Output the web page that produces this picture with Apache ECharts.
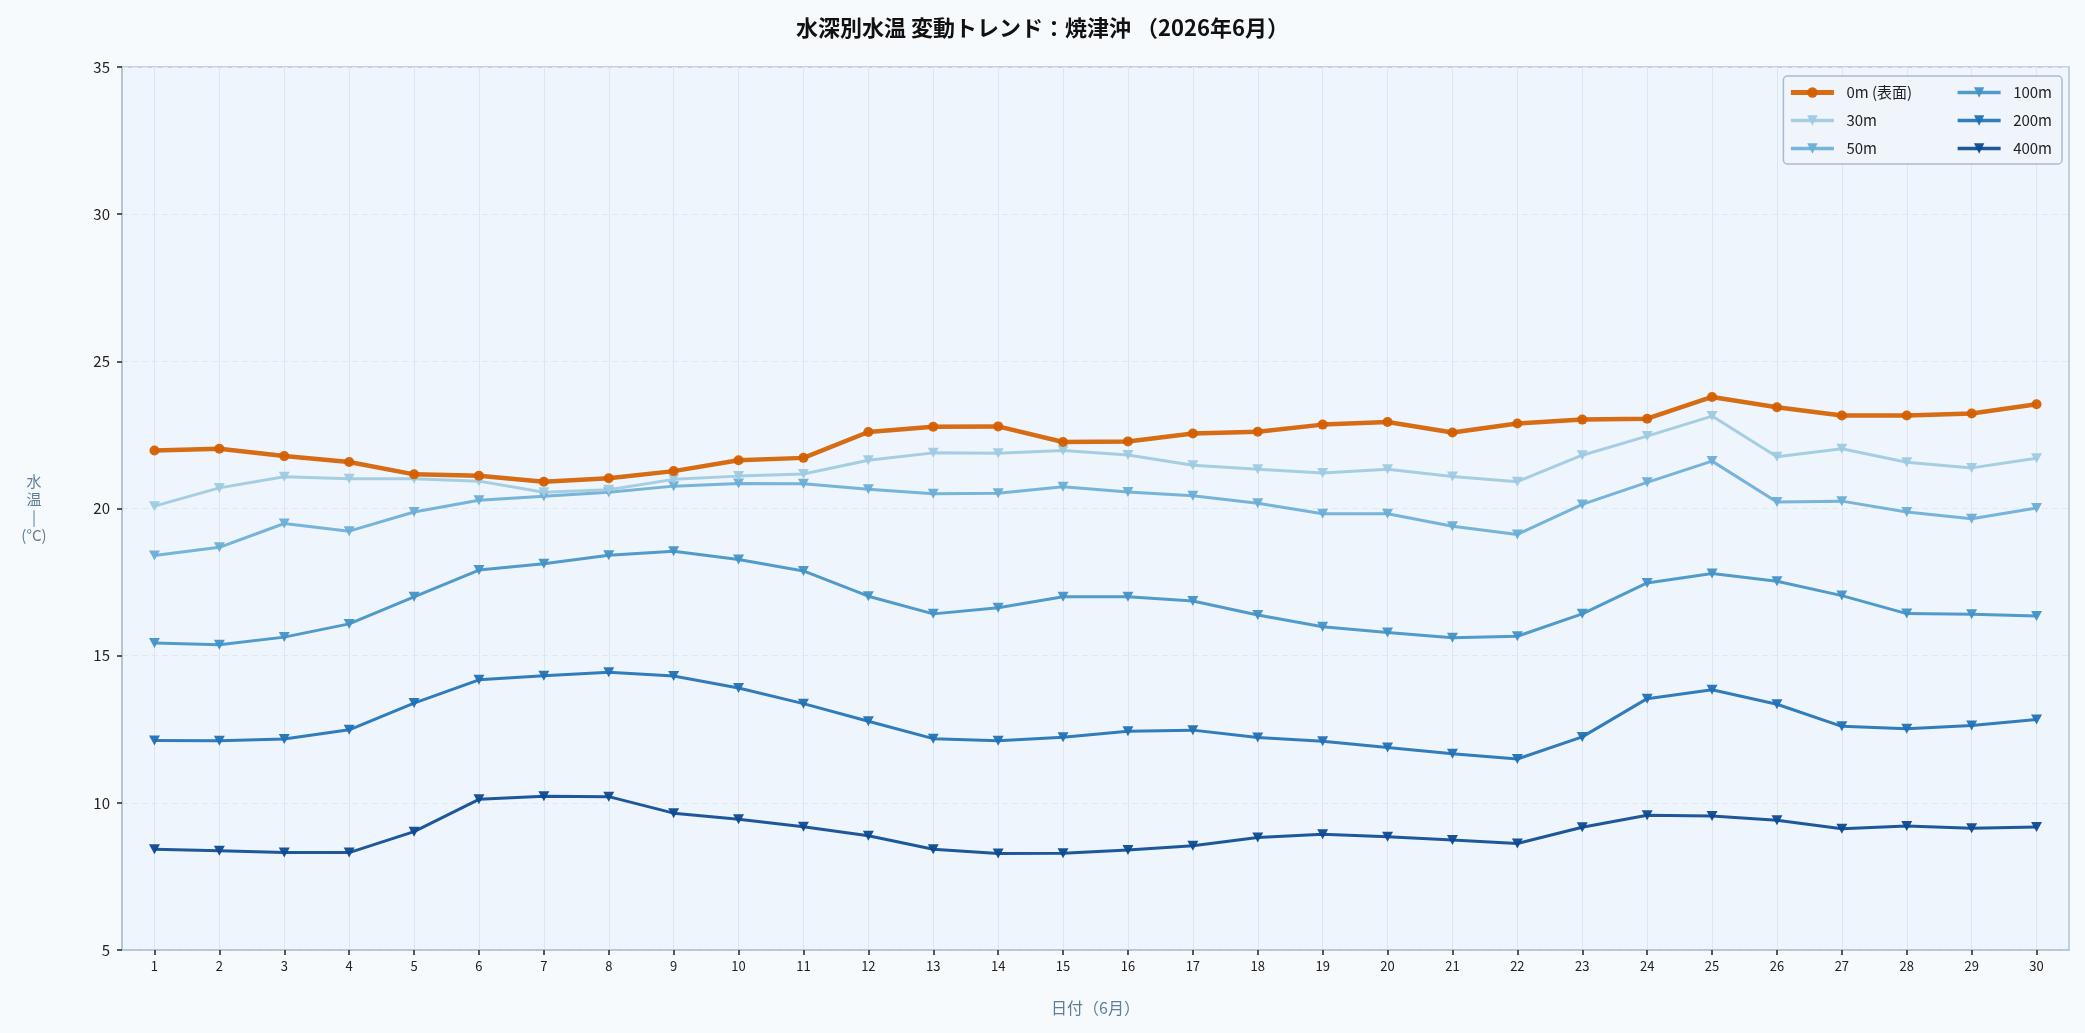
<!DOCTYPE html>
<html>
<head>
<meta charset="UTF-8">
<title>水深別水温 変動トレンド</title>
<script src="https://cdn.jsdelivr.net/npm/echarts@6/dist/echarts.min.js"></script>
<style>
  html, body { margin: 0; padding: 0; background: #f7fafd; }
  #main { width: 2085px; height: 1033px; }
</style>
</head>
<body>
<div id="main"></div>
<script>
// 日付（6月1日〜30日）
var days = [];
for (var d = 1; d <= 30; d++) days.push(String(d));

var yTicks = [5, 10, 15, 20, 25, 30, 35];

// 各水深の水温（℃）
var t0m = [21.97, 22.03, 21.78, 21.58, 21.16, 21.11, 20.91, 21.03, 21.27, 21.64,
           21.72, 22.60, 22.78, 22.79, 22.26, 22.28, 22.55, 22.61, 22.85, 22.94,
           22.58, 22.89, 23.02, 23.05, 23.79, 23.44, 23.16, 23.16, 23.23, 23.54];
var t30m = [20.08, 20.70, 21.08, 21.01, 21.01, 20.93, 20.55, 20.64, 20.99, 21.10,
            21.17, 21.64, 21.89, 21.88, 21.97, 21.82, 21.47, 21.33, 21.21, 21.33,
            21.09, 20.91, 21.81, 22.46, 23.14, 21.76, 22.03, 21.57, 21.38, 21.71];
var t50m = [18.40, 18.68, 19.49, 19.23, 19.88, 20.28, 20.42, 20.55, 20.76, 20.85,
            20.84, 20.65, 20.50, 20.52, 20.74, 20.56, 20.43, 20.18, 19.82, 19.82,
            19.40, 19.12, 20.14, 20.89, 21.61, 20.22, 20.25, 19.88, 19.65, 20.02];
var t100m = [15.43, 15.37, 15.63, 16.08, 17.00, 17.91, 18.12, 18.41, 18.55, 18.27,
             17.88, 17.02, 16.42, 16.63, 17.00, 17.00, 16.86, 16.38, 15.98, 15.79,
             15.61, 15.66, 16.42, 17.47, 17.79, 17.53, 17.04, 16.43, 16.41, 16.35];
var t200m = [12.12, 12.11, 12.17, 12.48, 13.39, 14.18, 14.32, 14.44, 14.31, 13.90,
             13.37, 12.77, 12.18, 12.11, 12.23, 12.43, 12.47, 12.22, 12.09, 11.88,
             11.67, 11.49, 12.24, 13.54, 13.84, 13.35, 12.60, 12.52, 12.63, 12.83];
var t400m = [8.42, 8.37, 8.31, 8.31, 9.02, 10.12, 10.22, 10.21, 9.65, 9.44,
             9.19, 8.88, 8.42, 8.28, 8.29, 8.40, 8.54, 8.82, 8.93, 8.85,
             8.74, 8.62, 9.17, 9.58, 9.55, 9.41, 9.12, 9.21, 9.14, 9.18];

var names = ['0m (表面)', '30m', '50m', '100m', '200m', '400m'];
var colors = ['#d45f00', '#9ecae1', '#6baed6', '#4292c6', '#2171b5', '#0d4a91'];
var seriesData = [t0m, t30m, t50m, t100m, t200m, t400m];

var font = '"Noto Sans CJK JP", "Noto Sans", sans-serif';
var triangle = 'path://M0,0 L10,0 L5,9 Z';

var series = seriesData.map(function (vals, i) {
    var surface = i === 0;
    return {
        name: names[i],
        type: 'line',
        data: vals,
        symbol: surface ? 'circle' : triangle,
        symbolSize: surface ? 10 : [11, 10],
        showAllSymbol: true,
        z: surface ? 10 : 5 - i * 0.1,
        lineStyle: { width: surface ? 4.5 : 3, color: colors[i], opacity: 0.92 },
        itemStyle: { color: colors[i], opacity: 0.95 },
        emphasis: { disabled: true }
    };
});

var legendData = names.map(function (n, i) {
    return { name: n, lineStyle: { width: i === 0 ? 5 : 3.5 } };
});

var myChart = echarts.init(document.getElementById('main'));
var option = {
    backgroundColor: '#f7fafd',
    animation: false,
    textStyle: { fontFamily: font },
    title: {
        text: '水深別水温 変動トレンド：焼津沖 （2026年6月）',
        left: 'center',
        top: 12,
        textStyle: { fontSize: 22, fontWeight: 'bold', color: '#111', fontFamily: font }
    },
    legend: {
        right: 23,
        top: 76,
        orient: 'vertical',
        height: 80,
        itemWidth: 43,
        itemHeight: 13,
        itemGap: 13,
        padding: [9, 10, 8, 5],
        backgroundColor: 'rgba(238,244,251,0.95)',
        borderColor: '#a9bccd',
        borderWidth: 1.5,
        borderRadius: 4,
        // 空白で記号との間隔と列の幅を元図に近づける
        formatter: function (name) {
            return '\u2002' + name + (name === names[0] ? '\u2003\u2003' : '');
        },
        textStyle: { fontSize: 15, color: '#222', fontFamily: font },
        data: legendData
    },
    grid: {
        left: 122,
        right: 16,
        top: 67,
        bottom: 83,
        show: true,
        backgroundColor: '#eff5fc',
        borderColor: '#b0c3d3',
        borderWidth: 1.5
    },
    xAxis: {
        type: 'category',
        data: days,
        boundaryGap: true,
        name: '日付（6月）',
        nameLocation: 'middle',
        nameGap: 50,
        nameTextStyle: { fontSize: 16, color: '#5f7f99' },
        axisLine: { show: true, lineStyle: { color: '#b0c3d3', width: 1.5 } },
        axisTick: { show: true, alignWithLabel: true, length: 5, lineStyle: { color: '#222', width: 1.5 } },
        axisLabel: { fontSize: 13, color: '#222', margin: 10 },
        splitLine: { show: true, alignWithLabel: true, lineStyle: { color: '#dde6ef', width: 1 } }
    },
    yAxis: {
        type: 'value',
        min: yTicks[0],
        max: yTicks[yTicks.length - 1],
        interval: 5,
        name: '水\n温\n|\n(°C)',
        nameLocation: 'middle',
        nameRotate: 0,
        nameGap: 88,
        nameTextStyle: { fontSize: 15, color: '#5f7f99', lineHeight: 18, align: 'center' },
        axisLine: { show: true, lineStyle: { color: '#b0c3d3', width: 1.5 } },
        axisTick: { show: true, length: 5, lineStyle: { color: '#222', width: 1.5 } },
        axisLabel: { fontSize: 15, color: '#222', margin: 12 },
        splitLine: { show: true, lineStyle: { color: '#dfe7f0', type: [6, 4], width: 1 } }
    },
    series: series
};
myChart.setOption(option);
</script>
</body>
</html>
